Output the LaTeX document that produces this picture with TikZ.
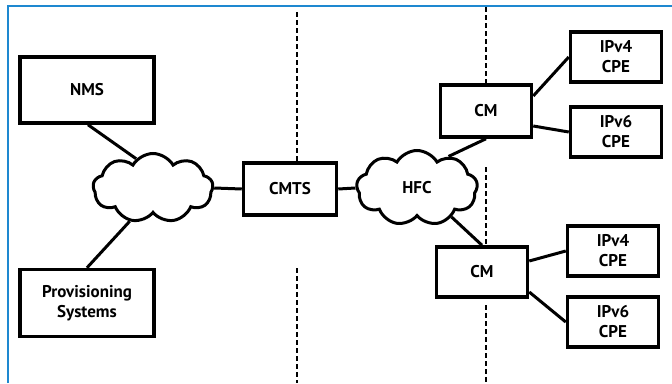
\documentclass[tikz,border=0pt]{standalone}
\usepackage{fontspec}
\setmainfont{PT Sans}
\usetikzlibrary{shapes.symbols}
\definecolor{framblue}{HTML}{1E88D0}
\tikzset{
  unit/.style={draw,line width=3.5pt,fill=white,inner sep=0pt,align=center,
    font=\bfseries\fontsize{17}{20}\selectfont},
  net/.style={cloud,cloud puffs=9,cloud puff arc=120,aspect=1.8,draw,line width=3pt,
    fill=white,inner sep=0pt,font=\bfseries\fontsize{17}{20}\selectfont},
  link/.style={line width=3pt},
  border/.style={dash pattern=on 5pt off 3pt,line width=2.5pt}
}
\begin{document}
\begin{tikzpicture}[x=1pt,y=-1pt]
\useasboundingbox (0,0) rectangle (672,383);
\draw[framblue,line width=1.5pt] (8,383) -- (8,6) -- (672,6);
% dotted boundaries
\draw[border] (297,12) -- (297,163);
\draw[border] (297,268) -- (297,383);
\draw[border] (486,7) -- (486,83);
\draw[border] (486,167) -- (486,245);
\draw[border] (486,305) -- (486,383);
% back office
\node[unit,minimum width=134pt,minimum height=66pt] (nms) at (87,90) {NMS};
\node[unit,minimum width=134pt,minimum height=67pt] (prov) at (87,303) {Provisioning\\Systems};
\node[net,minimum width=120pt,minimum height=69pt] (core) at (153,188) {};
\node[unit,minimum width=93pt,minimum height=52pt] (cmts) at (290,189) {CMTS};
\node[net,minimum width=121pt,minimum height=75pt] (hfc) at (417,188) {HFC};
% modems and CPEs
\node[unit,minimum width=91pt,minimum height=52pt] (cmA) at (486,111) {CM};
\node[unit,minimum width=91pt,minimum height=50pt] (cmB) at (482,272) {CM};
\node[unit,minimum width=91pt,minimum height=50pt] (cpeA4) at (616,57) {IPv4\\CPE};
\node[unit,minimum width=91pt,minimum height=50pt] (cpeA6) at (616,132) {IPv6\\CPE};
\node[unit,minimum width=91pt,minimum height=50pt] (cpeB4) at (613,251) {IPv4\\CPE};
\node[unit,minimum width=91pt,minimum height=50pt] (cpeB6) at (613,322) {IPv6\\CPE};
\draw[link] (nms.south) ++(1,0) -- (core.120);
\draw[link] (core.235) -- (prov.north);
\draw[link] (core.east) -- (cmts.west);
\draw[link] (cmts.east) -- (hfc.west);
\draw[link] (cmA.south) -- (hfc.45);
\draw[link] (hfc.-40) -- (cmB.north);
\draw[link] (cmA.east) ++(0,-15) -- (cpeA4.west);
\draw[link] (cmA.east) ++(0,15) -- (cpeA6.west);
\draw[link] (cmB.east) ++(0,-11) -- (cpeB4.west);
\draw[link] (cmB.east) ++(0,20) -- (cpeB6.west);
\end{tikzpicture}
\end{document}
